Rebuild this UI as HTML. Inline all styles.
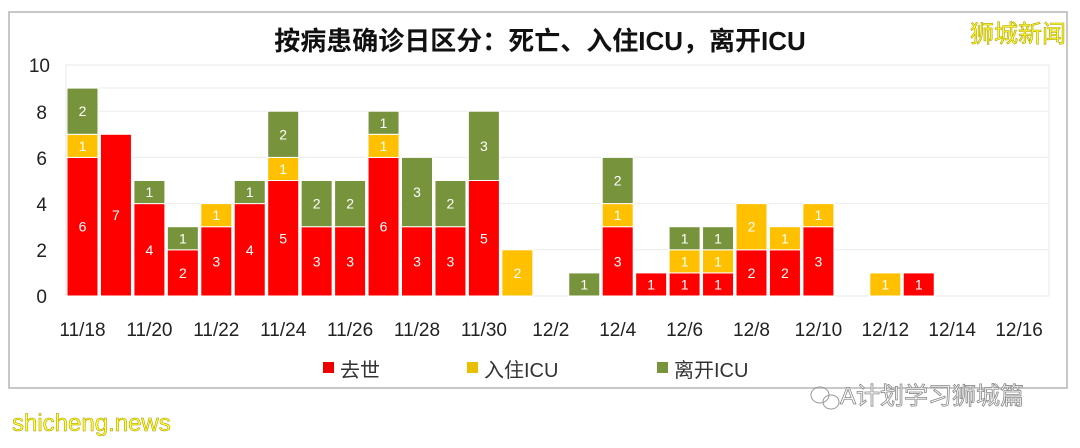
<!DOCTYPE html>
<html><head><meta charset="utf-8">
<style>
body{margin:0;background:#fff;width:1080px;height:443px;overflow:hidden;font-family:"Liberation Sans","Noto Sans CJK SC",sans-serif;}
</style></head><body>
<svg id="s" width="1080" height="443" xmlns="http://www.w3.org/2000/svg">
<rect x="0" y="0" width="1080" height="443" fill="#fff"/>
<rect x="9" y="12" width="1058" height="376" fill="#fff" stroke="#c8c8c8" stroke-width="2"/>
<rect x="66" y="65" width="983" height="231" fill="#fff" stroke="#e8e8e8" stroke-width="1"/>
<g stroke="#ececec" stroke-width="1">
<line x1="66" x2="1049" y1="88" y2="88"/><line x1="66" x2="1049" y1="111.2" y2="111.2"/>
<line x1="66" x2="1049" y1="157.4" y2="157.4"/><line x1="66" x2="1049" y1="203.6" y2="203.6"/>
<line x1="66" x2="1049" y1="249.8" y2="249.8"/>
</g>
<text x="540" y="50" text-anchor="middle" font-size="26" font-weight="bold" fill="#111" font-family="'Liberation Sans','Noto Sans CJK SC',sans-serif">按病患确诊日区分：死亡、入住ICU，离开ICU</text>
<text x="1066" y="42" text-anchor="end" font-size="24" fill="#ffff33" stroke="#b0a000" stroke-width="0.6" font-family="'Noto Sans CJK SC',sans-serif">狮城新闻</text>
<g font-size="19" fill="#222" text-anchor="end" font-family="'Liberation Sans Narrow','Liberation Sans',sans-serif">
<text x="50" y="72">10</text><text x="47" y="119">8</text><text x="47" y="165">6</text>
<text x="47" y="211">4</text><text x="47" y="257">2</text><text x="47" y="303">0</text>
</g>
<g id="bars"></g>
<g id="xl" font-size="19" fill="#222" text-anchor="middle" font-family="'Liberation Sans Narrow','Liberation Sans',sans-serif"></g>
<g font-size="20" fill="#333" font-family="'Liberation Sans','Noto Sans CJK SC',sans-serif">
<rect x="323" y="362" width="11" height="11" fill="#e00"/><text x="340" y="377">去世</text>
<rect x="467" y="362" width="11" height="11" fill="#e8c000"/><text x="484" y="377">入住ICU</text>
<rect x="657" y="362" width="11" height="11" fill="#77933c"/><text x="674" y="377">离开ICU</text>
</g>
<text x="12" y="431" font-size="24" fill="#ffff33" stroke="#a09000" stroke-width="0.5" font-family="'Liberation Sans',sans-serif">shicheng.news</text>
<text x="840" y="404" font-size="24" fill="#fff" stroke="#888" stroke-width="0.8" font-family="'Liberation Sans','Noto Sans CJK SC',sans-serif">A计划学习狮城篇</text>
<ellipse cx="820" cy="395" rx="9" ry="8" fill="none" stroke="#999"/><ellipse cx="831" cy="402" rx="8" ry="7" fill="none" stroke="#999"/>
</svg>
<script>
var d=[[6,1,2],[7,0,0],[4,0,1],[2,0,1],[3,1,0],[4,0,1],[5,1,2],[3,0,2],[3,0,2],[6,1,1],[3,0,3],[3,0,2],[5,0,3],[0,2,0],[0,0,0],[0,0,1],[3,1,2],[1,0,0],[1,1,1],[1,1,1],[2,2,0],[2,1,0],[3,1,0],[0,0,0],[0,1,0],[1,0,0],[0,0,0],[0,0,0],[0,0,0]];
var col=["#ff0000","#ffc000","#77933c"],u=23.1,base=296,k=33.45,w=31,h="";
d.forEach(function(r,i){var x=67+k*i,c=0;for(var j=0;j<3;j++){if(!r[j])continue;var y0=base-u*(c+r[j]),hh=u*r[j];
h+='<rect x="'+x+'" y="'+y0+'" width="'+w+'" height="'+hh+'" fill="'+col[j]+'" stroke="#fff" stroke-width="1"/>';
h+='<text x="'+(x+w/2)+'" y="'+(y0+hh/2+5)+'" text-anchor="middle" font-size="14" fill="#fff" font-family="Liberation Sans Narrow,Liberation Sans,sans-serif">'+r[j]+'</text>';c+=r[j];}});
document.getElementById("bars").innerHTML=h;
var lab=["11/18","11/20","11/22","11/24","11/26","11/28","11/30","12/2","12/4","12/6","12/8","12/10","12/12","12/14","12/16"],t="";
lab.forEach(function(s,i){t+='<text x="'+(67+w/2+k*2*i)+'" y="336">'+s+'</text>';});
document.getElementById("xl").innerHTML=t;
</script>
</body></html>
